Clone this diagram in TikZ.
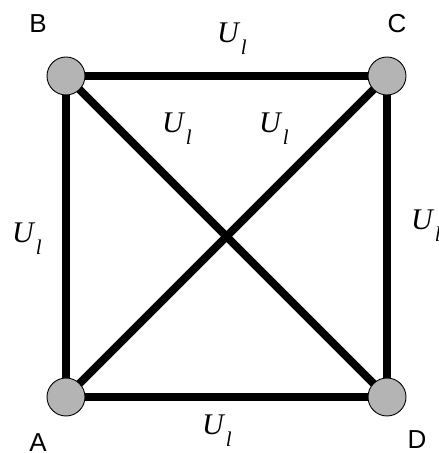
\documentclass[tikz,border=0pt]{standalone}
\usepackage{fontspec}
\setmainfont{Liberation Serif}
\newfontfamily\lsans{Liberation Sans}
\newcommand{\Ulab}{{\fontsize{30}{30}\selectfont\itshape U}\kern2pt\raisebox{-12pt}{\fontsize{21}{21}\selectfont\itshape l}}
\begin{document}
\begin{tikzpicture}[x=1pt,y=1pt,
  vert/.style={circle,draw=black,line width=0.9pt,fill={rgb,255:red,180;green,180;blue,180},minimum size=38pt,inner sep=0pt},
  edge/.style={line width=8pt,black},
  vname/.style={font=\lsans\fontsize{26}{26}\selectfont,inner sep=0pt,anchor=base},
  ulab/.style={inner sep=0pt,anchor=base west}]
\useasboundingbox (0,0) rectangle (439,453);
\clip (0,0) rectangle (439,453);
\coordinate (B) at (66,377);
\coordinate (C) at (387,377);
\coordinate (A) at (66,56);
\coordinate (D) at (387,56);
\draw[edge] (B) -- (C);
\draw[edge] (B) -- (A);
\draw[edge] (C) -- (D);
\draw[edge] (A) -- (D);
\draw[edge] (B) -- (D);
\draw[edge] (A) -- (C);
\node[vert] (nB) at (B) {};
\node[vert] (nC) at (C) {};
\node[vert] (nA) at (A) {};
\node[vert] (nD) at (D) {};
\node[vname] (lB) at (38,420) {B};
\node[vname] (lC) at (397,420) {C};
\node[vname] (lA) at (38,1.5) {A};
\node[vname] (lD) at (417,5) {D};
\node[ulab] (u1) at (217,410) {\Ulab};
\node[ulab] (u2) at (12,210) {\Ulab};
\node[ulab] (u3) at (202,18) {\Ulab};
\node[ulab] (u4) at (162,320) {\Ulab};
\node[ulab] (u5) at (259,320) {\Ulab};
\node[ulab] (u6) at (411,223) {\Ulab};
\end{tikzpicture}
\end{document}
